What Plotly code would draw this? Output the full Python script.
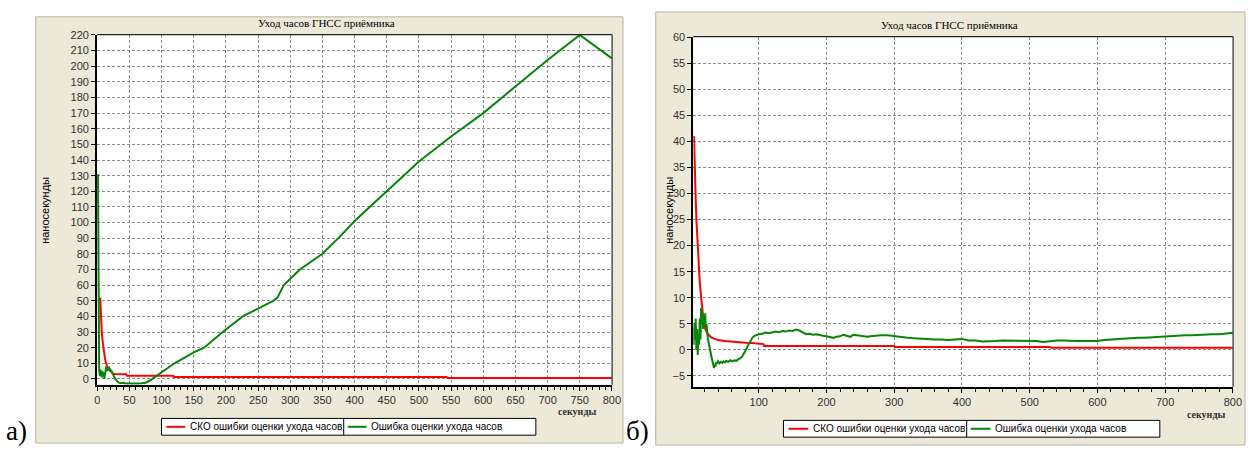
import plotly.graph_objects as go

W, H = 1254, 449

# ---------------- data: panel а) ----------------
a_sko_x = [4.5, 5, 6, 7, 8, 9, 10, 11, 12, 13, 14, 15, 16, 18, 20, 22, 24, 26, 45, 46, 118, 119, 543, 544, 800]
a_sko_y = [52, 44, 36, 30, 25, 21, 18, 15, 13, 11, 9.5, 8, 7, 6, 5, 4.3, 3.6, 3.1, 3.0, 2.0, 2.0, 1.2, 1.2, 0.6, 0.6]

a_err_x = [1, 1.5, 2, 3, 4, 5, 6, 7, 8, 9, 10, 11, 12, 13, 14, 15, 16, 17, 18, 19, 20, 22, 25, 28,
           32, 36, 40, 45, 50, 55, 60, 65, 70, 75, 80, 85, 90, 100, 120, 150, 166, 195, 226, 250,
           274, 280, 290, 315, 350, 377, 400, 450, 500, 550, 600, 650, 700, 750, 800]
a_err_y = [131, 60, 25, 5, 2, 6, 3, 1, 5, 2, 4, 0, 3, 6, 8, 5, 7, 6, 8, 5, 6, 5, 2, 0,
           -2, -2.8, -2.5, -3, -3, -3.2, -3, -3, -2.8, -2.5, -1.5, 0, 1.5, 4.5, 10, 17, 20, 30, 40, 45,
           50, 52, 60, 70, 80, 91, 101, 120, 139, 155, 170, 187, 204, 220, 205]

# ---------------- data: panel б) ----------------
b_sko_x = [4.5, 5, 6, 7, 8, 9, 10, 11, 12, 13, 14, 15, 16, 17, 18, 19, 20, 22, 24, 26, 30, 35, 40, 50,
           60, 70, 80, 90, 100, 107, 108, 300, 301, 530, 531, 800]
b_sko_y = [41, 37, 33, 29, 25, 22, 20, 18, 15, 13, 11.5, 10, 8.5, 7, 6, 5, 4.3, 3.6, 3.2, 2.9, 2.4, 2.1, 1.9, 1.7,
           1.55, 1.45, 1.35, 1.3, 1.2, 1.1, 0.75, 0.75, 0.55, 0.55, 0.4, 0.4]

b_err_x = [3, 4, 5, 6, 7, 8, 9, 10, 11, 12, 13, 14, 15, 16, 17, 18, 19, 20, 21, 22, 23, 24, 25, 26, 27,
           28, 29, 30, 31, 32, 33, 34, 35, 36, 37, 38, 40, 42, 44, 46, 48, 50, 52, 55, 58, 61, 64, 67,
           70, 73, 76, 79, 82, 85, 88, 91, 94, 97, 100, 105, 110, 115, 120, 125, 130, 135, 140, 145,
           150, 155, 160, 165, 170, 175, 180, 185, 190, 195, 200, 205, 210, 215, 220, 225, 230, 235,
           240, 245, 250, 255, 260, 265, 270, 280, 290, 300, 310, 320, 330, 340, 350, 360, 370, 380,
           390, 400, 410, 420, 430, 440, 450, 460, 470, 480, 490, 500, 510, 520, 530, 540, 550, 560,
           570, 580, 590, 600, 610, 620, 630, 640, 650, 660, 670, 680, 690, 700, 710, 720, 730, 740,
           750, 760, 770, 780, 790, 800]
b_err_y = [4, 1, 5, 2, 6, 0, 4, -1, 3, 1, 6, 2, 8, 5, 7, 4, 6, 5, 7, 4, 5, 3, 2, 1.5, 0.5,
           0, -0.5, -1.2, -1.8, -2.4, -3, -3.5, -2.8, -3.2, -2.4, -2.7, -2.2, -2.6, -2.3, -2.5, -2.2, -2.4, -2.1, -2.3, -2.0, -2.2, -2.0, -2.1,
           -1.8, -1.6, -1.2, -0.6, 0.2, 1.0, 1.8, 2.4, 2.7, 2.9, 3.0, 3.1, 3.3, 3.2, 3.4, 3.5, 3.4, 3.6, 3.5, 3.7,
           3.6, 3.9, 3.7, 3.3, 3.0, 3.1, 2.9, 3.0, 2.8, 2.7, 2.6, 2.4, 2.3, 2.5, 2.6, 2.9, 2.7, 2.5,
           2.9, 2.8, 2.7, 2.6, 2.5, 2.6, 2.7, 2.8, 2.8, 2.6, 2.4, 2.3, 2.2, 2.1, 2.1, 2.0, 2.0, 1.9,
           2.0, 2.1, 1.8, 1.8, 1.6, 1.6, 1.7, 1.8, 1.8, 1.7, 1.8, 1.8, 1.7, 1.5, 1.7, 1.8, 1.8, 1.7,
           1.7, 1.7, 1.7, 1.7, 1.9, 2.0, 2.0, 2.1, 2.2, 2.3, 2.3, 2.4, 2.4, 2.5, 2.6, 2.7, 2.8, 2.8,
           2.9, 2.9, 3.0, 3.0, 3.2, 3.3]

title_text = "Уход часов ГНСС приёмника"
y_title = "наносекунды"
x_title = "секунды"
sko_name = "СКО ошибки оценки ухода часов"
err_name = "Ошибка оценки ухода часов"

a_xticks = list(range(0, 801, 50))
a_yticks = list(range(0, 221, 10))
b_xticks = list(range(100, 801, 100))
b_yticks = list(range(-5, 61, 5))

RED = "#ff0000"
GREEN = "#078507"
BEIGE = "#ece9d8"


def px(x):
    return x / W


def py(y):
    return 1 - y / H


fig = go.Figure()

fig.add_trace(go.Scatter(x=a_sko_x, y=a_sko_y, mode="lines", name=sko_name,
                         line=dict(color=RED, width=2), xaxis="x", yaxis="y", showlegend=False))
fig.add_trace(go.Scatter(x=a_err_x, y=a_err_y, mode="lines", name=err_name,
                         line=dict(color=GREEN, width=2), xaxis="x", yaxis="y", showlegend=False))
fig.add_trace(go.Scatter(x=b_sko_x, y=b_sko_y, mode="lines", name=sko_name,
                         line=dict(color=RED, width=2), xaxis="x2", yaxis="y2", showlegend=False))
fig.add_trace(go.Scatter(x=b_err_x, y=b_err_y, mode="lines", name=err_name,
                         line=dict(color=GREEN, width=2), xaxis="x2", yaxis="y2", showlegend=False))

tickfont = dict(family="Liberation Sans, Arial, sans-serif", size=11, color="#303030")
grid = dict(showgrid=True, gridcolor="#8c8c8c", gridwidth=1, griddash="3px,2px",
            zeroline=False, showline=True, linecolor="black", linewidth=2,
            ticks="outside", ticklen=4, tickcolor="black", tickwidth=1, tickfont=tickfont)

# panel geometry in pixels: (left, top, right, bottom)
A = (95, 29, 615, 384)
B = (697, 31, 1242, 386)

fig.update_layout(
    width=W, height=H,
    margin=dict(l=0, r=0, t=0, b=0),
    paper_bgcolor="white", plot_bgcolor="white",
    xaxis=dict(domain=[px(A[0]), px(A[2])], range=[-0.3, 800.3], tickvals=a_xticks,
               anchor="y", minor=dict(dtick=10, ticklen=3, tickcolor="black", showgrid=False), **grid),
    yaxis=dict(domain=[py(A[3]), py(A[1])], range=[-3.8, 220.2], tickvals=a_yticks,
               anchor="x", **grid),
    xaxis2=dict(domain=[px(B[0]), px(B[2])], range=[3.5, 800.3], tickvals=b_xticks,
                anchor="y2", minor=dict(dtick=20, ticklen=3, tickcolor="black", showgrid=False), **grid),
    yaxis2=dict(domain=[py(B[3]), py(B[1])], range=[-7.1, 60.1], tickvals=b_yticks,
                anchor="x2", **grid),
)

shapes = []
# window panels
for (x0, y0, x1, y1) in [(33, 11, 626, 443), (659, 6, 1254, 445)]:
    shapes.append(dict(type="rect", xref="paper", yref="paper", layer="below",
                       x0=px(x0), x1=px(x1), y0=py(y1), y1=py(y0),
                       fillcolor=BEIGE, line=dict(color="#b8b4a4", width=1)))
# white plotting areas and their top/right borders
for (l, t, r, b) in [A, B]:
    shapes.append(dict(type="rect", xref="paper", yref="paper", layer="below",
                       x0=px(l), x1=px(r), y0=py(b), y1=py(t),
                       fillcolor="white", line=dict(width=0)))
    shapes.append(dict(type="line", xref="paper", yref="paper", layer="above",
                       x0=px(l), x1=px(r), y0=py(t), y1=py(t), line=dict(color="#202020", width=1.2)))
    shapes.append(dict(type="line", xref="paper", yref="paper", layer="above",
                       x0=px(r), x1=px(r), y0=py(b), y1=py(t), line=dict(color="#505050", width=1.5)))

annotations = []
legend_font = dict(family="Liberation Sans, Arial, sans-serif", size=10, color="black")

# legends drawn as boxed rows
legends = [
    # box x0, x1, y0, y1, separator, (line x0, x1, text x) for each entry
    (160, 538, 418, 435, 344, [(165, 184, 187, RED, sko_name), (348, 367, 370, GREEN, err_name)]),
    (788, 1168, 420, 437, 973, [(793, 813, 816, RED, sko_name), (977, 997, 1000, GREEN, err_name)]),
]
for (x0, x1, y0, y1, sep, entries) in legends:
    shapes.append(dict(type="rect", xref="paper", yref="paper", layer="above",
                       x0=px(x0), x1=px(x1), y0=py(y1), y1=py(y0),
                       fillcolor="white", line=dict(color="black", width=1)))
    shapes.append(dict(type="line", xref="paper", yref="paper", layer="above",
                       x0=px(sep), x1=px(sep), y0=py(y1), y1=py(y0),
                       line=dict(color="black", width=1)))
    ym = (y0 + y1) / 2
    for (lx0, lx1, tx, col, label) in entries:
        shapes.append(dict(type="line", xref="paper", yref="paper", layer="above",
                           x0=px(lx0), x1=px(lx1), y0=py(ym), y1=py(ym),
                           line=dict(color=col, width=2)))
        annotations.append(dict(xref="paper", yref="paper", x=px(tx), y=py(ym),
                                xanchor="left", yanchor="middle", showarrow=False,
                                text=label, font=legend_font))

# titles and axis labels
for (cx, cy) in [(327, 17), (956, 19)]:
    annotations.append(dict(xref="paper", yref="paper", x=px(cx), y=py(cy), showarrow=False,
                            xanchor="center", yanchor="middle", text=title_text,
                            font=dict(family="Liberation Serif, Times New Roman, serif", size=11,
                                      color="black")))
for (cx, cy) in [(43, 207), (673, 207)]:
    annotations.append(dict(xref="paper", yref="paper", x=px(cx), y=py(cy), showarrow=False,
                            xanchor="center", yanchor="middle", text=y_title, textangle=-90,
                            font=dict(family="Liberation Sans, Arial, sans-serif", size=11,
                                      color="black")))
for (cx, cy) in [(580, 411), (1215, 414)]:
    annotations.append(dict(xref="paper", yref="paper", x=px(cx), y=py(cy), showarrow=False,
                            xanchor="center", yanchor="middle", text="<b>" + x_title + "</b>",
                            font=dict(family="Liberation Serif, Times New Roman, serif", size=10,
                                      color="#303030")))
# panel letters
for (cx, cy, letter) in [(14, 431, "а)"), (641, 431, "б)")]:
    annotations.append(dict(xref="paper", yref="paper", x=px(cx), y=py(cy), showarrow=False,
                            xanchor="center", yanchor="middle", text=letter,
                            font=dict(family="Liberation Serif, Times New Roman, serif", size=27,
                                      color="black")))

fig.update_layout(shapes=shapes, annotations=annotations)
fig.write_html("out.html")
